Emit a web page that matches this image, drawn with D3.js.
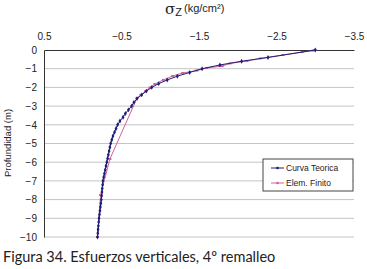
<!DOCTYPE html>
<html>
<head>
<meta charset="utf-8">
<script src="https://cdn.jsdelivr.net/npm/d3@7"></script>
<style>
  body { margin: 0; background: #fff; }
  svg { display: block; }
</style>
</head>
<body>
<div id="chart"></div>
<script>
// Datos (profundidad en m, esfuerzo en kg/cm2)
const teoricaDepth = [0, -0.4, -0.6, -0.8, -1.0, -1.2, -1.4, -1.6, -1.8, -2.0, -2.2, -2.4, -2.6, -2.8, -3.0,
  -3.2, -3.4, -3.6, -3.8, -4.0, -4.2, -4.4, -4.6, -4.8, -5.0, -5.2, -5.4, -5.6, -5.8, -6.0,
  -6.2, -6.4, -6.6, -6.8, -7.0, -7.2, -7.4, -7.6, -7.8, -8.0, -8.2, -8.4, -8.6, -8.8, -9.0,
  -9.2, -9.4, -9.6, -9.8, -10.0];
const teoricaSigma = [-3.00, -2.39, -2.05, -1.77, -1.54, -1.38, -1.22, -1.09, -0.98, -0.89, -0.82, -0.76, -0.70, -0.66, -0.63,
  -0.59, -0.55, -0.52, -0.48, -0.45, -0.43, -0.41, -0.39, -0.375, -0.36, -0.35, -0.34, -0.33, -0.32, -0.31,
  -0.30, -0.29, -0.28, -0.27, -0.26, -0.256, -0.252, -0.248, -0.244, -0.24, -0.234, -0.228, -0.222, -0.216, -0.21,
  -0.206, -0.202, -0.198, -0.194, -0.19];

const finitoDepth = [0, -0.03, -0.11, -0.27, -0.45, -0.59, -0.72, -0.86, -0.96, -1.10, -1.23, -1.39, -1.60, -1.82,
  -2.0, -2.2, -2.4, -2.57, -5.83, -7.75, -10.0];
const finitoSigma = [-3.00, -2.97, -2.83, -2.58, -2.29, -2.12, -1.90, -1.80, -1.60, -1.47, -1.29, -1.16, -1.04, -0.93,
  -0.87, -0.81, -0.75, -0.70, -0.35, -0.23, -0.19];

const xTicks = [0.5, -0.5, -1.5, -2.5, -3.5];
const yTicks = [0, -1, -2, -3, -4, -5, -6, -7, -8, -9, -10];
const seriesNames = ["Curva Teorica", "Elem. Finito"];
const seriesColors = ["#1e1e78", "#d2609e"];

const W = 367, H = 269;
const margin = { top: 50, right: 13, bottom: 32, left: 44 };
const width = W - margin.left - margin.right,
      height = H - margin.top - margin.bottom;

const svg = d3.select("#chart").append("svg")
  .attr("width", W)
  .attr("height", H);

const g = svg.append("g")
  .attr("transform", `translate(${margin.left},${margin.top})`);

const x = d3.scaleLinear().domain([0.5, -3.5]).range([0, width]);
const y = d3.scaleLinear().domain([0, -10]).range([0, height]);

// lineas horizontales de la grilla
g.selectAll(".grid")
  .data(yTicks.slice(1))
  .enter()
  .append("line")
  .attr("x1", 0).attr("x2", width)
  .attr("y1", d => y(d)).attr("y2", d => y(d))
  .attr("stroke", "#c4c4c4")
  .attr("stroke-width", 1);

// eje superior (x)
const xAxis = g.append("g")
  .call(d3.axisTop(x).tickValues(xTicks).tickSize(0).tickPadding(10).tickFormat(d3.format("")));
xAxis.select(".domain").attr("stroke", "#333");
xAxis.selectAll("text")
  .style("font-family", "Liberation Sans, Arial, sans-serif")
  .style("font-size", "10px")
  .attr("fill", "#222");

// eje izquierdo (y)
const yAxis = g.append("g")
  .call(d3.axisLeft(y).tickValues(yTicks).tickSize(0).tickPadding(7).tickFormat(d3.format("")));
yAxis.select(".domain").attr("stroke", "#333");
yAxis.selectAll("text")
  .style("font-family", "Liberation Sans, Arial, sans-serif")
  .style("font-size", "10px")
  .attr("fill", "#222");

// series
const teorica = teoricaDepth.map((d, i) => ({ z: d, s: teoricaSigma[i] }));
const finito = finitoDepth.map((d, i) => ({ z: d, s: finitoSigma[i] }));

const line = d3.line().x(d => x(d.s)).y(d => y(d.z));

g.append("path")
  .datum(finito)
  .attr("d", line)
  .attr("fill", "none")
  .attr("stroke", seriesColors[1])
  .attr("stroke-width", 1);

g.selectAll(".mf")
  .data(finito)
  .enter()
  .append("rect")
  .attr("x", d => x(d.s) - 1.5)
  .attr("y", d => y(d.z) - 1)
  .attr("width", 3)
  .attr("height", 2)
  .attr("fill", seriesColors[1]);

g.append("path")
  .datum(teorica)
  .attr("d", line)
  .attr("fill", "none")
  .attr("stroke", seriesColors[0])
  .attr("stroke-width", 1);

const diamond = d3.symbol().type(d3.symbolDiamond).size(7);
g.selectAll(".mt")
  .data(teorica)
  .enter()
  .append("path")
  .attr("d", diamond)
  .attr("transform", d => `translate(${x(d.s)},${y(d.z)})`)
  .attr("fill", seriesColors[0]);

// leyenda
const legend = svg.append("g").attr("transform", "translate(263,159)");
legend.append("rect")
  .attr("width", 90).attr("height", 32)
  .attr("fill", "#fff")
  .attr("stroke", "#444")
  .attr("stroke-width", 1);

const items = legend.selectAll(".item")
  .data(seriesNames)
  .enter()
  .append("g")
  .attr("transform", (d, i) => `translate(0,${9 + i * 15})`);

items.append("line")
  .attr("x1", 8).attr("x2", 21)
  .attr("stroke", (d, i) => seriesColors[i])
  .attr("stroke-width", 1);
items.append("circle")
  .attr("cx", 14.5).attr("r", 1.3)
  .attr("fill", (d, i) => seriesColors[i]);
items.append("text")
  .attr("x", 23).attr("y", 3)
  .style("font-family", "Liberation Sans, Arial, sans-serif")
  .style("font-size", "8.5px")
  .attr("fill", "#222")
  .text(d => d);

// titulo del eje x
const title = svg.append("text")
  .attr("x", 165).attr("y", 14)
  .style("font-family", "Liberation Sans, Arial, sans-serif")
  .attr("fill", "#222");
title.append("tspan")
  .style("font-family", "DejaVu Serif, serif")
  .style("font-size", "15px")
  .text("σ");
title.append("tspan")
  .attr("dy", 2)
  .style("font-size", "11px")
  .text("Z");
title.append("tspan")
  .attr("dy", -4).attr("dx", 2)
  .style("font-size", "11px")
  .text("(kg/cm²)");

// titulo del eje y
svg.append("text")
  .attr("transform", "rotate(-90)")
  .attr("x", -143).attr("y", 11)
  .attr("text-anchor", "middle")
  .style("font-family", "Liberation Sans, Arial, sans-serif")
  .style("font-size", "9.5px")
  .attr("fill", "#222")
  .text("Profundidad (m)");

// pie de figura
svg.append("text")
  .attr("x", 3).attr("y", 262)
  .style("font-family", "Lato, sans-serif")
  .style("font-size", "14.5px")
  .attr("fill", "#222")
  .text("Figura 34. Esfuerzos verticales, 4º remalleo");
</script>
</body>
</html>
